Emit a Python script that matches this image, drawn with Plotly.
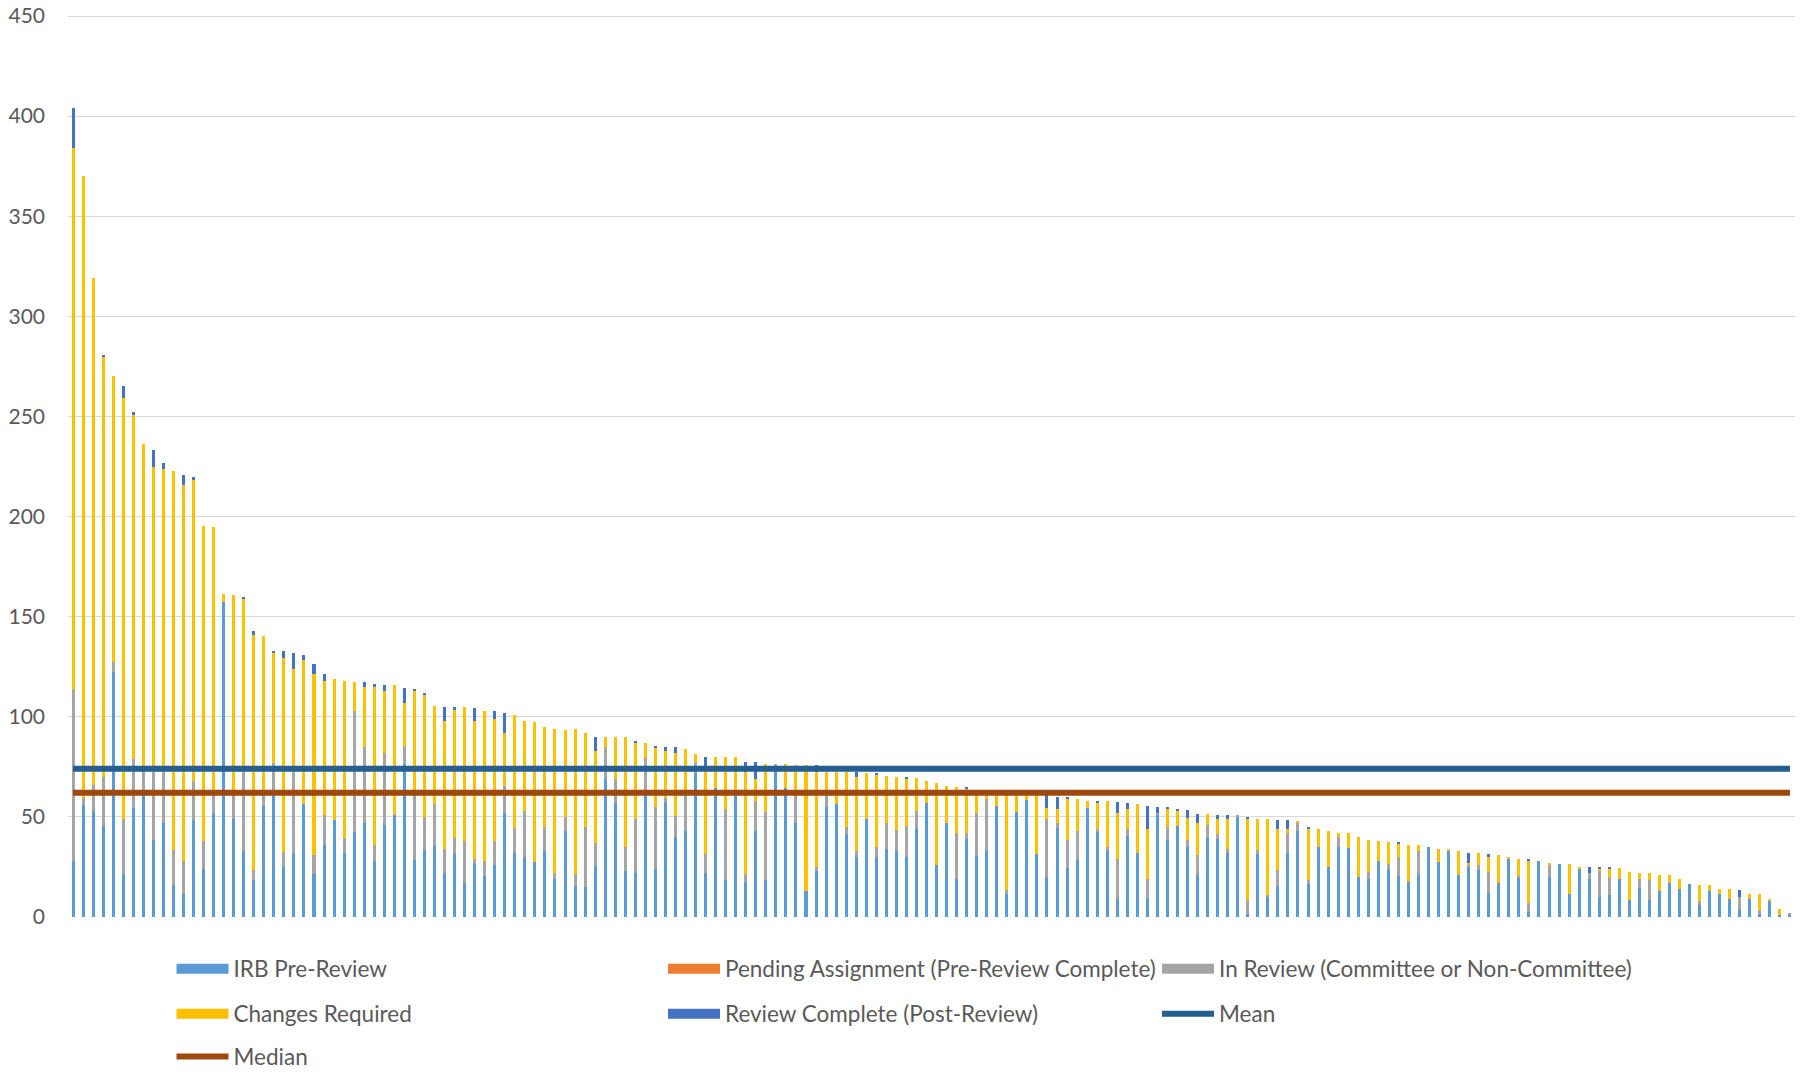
import plotly.graph_objects as go

# ---- data ----
categories = list(range(1, 173))

irb_pre_review = [
    28, 56, 53, 45.5, 122.5, 21.5, 54.5, 61, 38.5, 47,
    16, 11.5, 48.5, 24, 52, 157.5, 49, 33, 18.5, 55.5,
    61, 25, 32, 56.5, 21.5, 36, 48.5, 32, 42.5, 47,
    28, 46, 51, 76.5, 28.5, 33.5, 35.5, 22, 31.5, 17,
    26.5, 20.5, 26, 52, 32, 30, 27.5, 33, 19, 43,
    15.5, 15, 25.5, 69, 57, 23, 22, 61, 24, 57.5,
    40, 43, 72, 22, 64.5, 18.5, 61, 17.5, 43, 18.5,
    75.5, 64.5, 47, 13, 23, 55, 56.5, 41.5, 30, 49,
    30, 34, 33, 30, 44, 57, 26, 47, 19, 39,
    30.5, 33, 55.5, 11.5, 52.5, 58.5, 31.5, 20, 44.5, 24.5,
    28.5, 54.5, 42.5, 33, 9, 40.5, 32, 9, 51, 38.5,
    45.5, 35, 21, 39.5, 39, 32, 50, 1.5, 31.5, 10,
    15.5, 32, 43, 16.5, 35, 25, 35, 34.5, 20, 19,
    28, 23.5, 20.5, 17.5, 21, 35, 27.5, 33, 21, 25,
    23.5, 12, 17, 29, 19.5, 2.5, 28, 20, 26.5, 11.5,
    24, 19, 10, 11, 19, 8.5, 14.5, 8.5, 13, 17,
    14, 16.5, 6, 13, 11.5, 9, 3.5, 9, 1.5, 8,
    1, 1,
]

pending_assignment = [
    0, 0, 0, 0, 0, 0, 0, 0, 0, 0, 0, 0, 0, 0, 0, 0, 0, 0, 0, 0,
    0, 0, 0, 0, 0, 0, 0, 0, 0, 0, 0, 0, 0, 0, 0, 0, 0, 0, 0, 0,
    0, 0, 0, 0, 0, 0, 0, 0, 0, 0, 0, 0, 0, 0, 0, 0, 0, 0, 0, 0,
    0, 0, 0, 0, 0, 0, 0, 0, 0, 0, 0, 0, 0, 0, 0, 0, 0, 0, 0, 0,
    0, 0, 0, 0, 0, 0, 0, 0, 0, 0, 0, 0, 0, 0, 0, 0, 0, 0, 0, 0,
    0, 0, 0, 0, 0, 0, 0, 0, 0, 0, 0, 0, 0, 0, 0, 0, 0, 0, 0, 0,
    0, 0, 0, 0, 0, 0, 0, 0, 0, 0, 0, 0, 0, 0, 0, 0, 0, 0, 0, 0,
    0, 0, 0, 0, 0, 0, 0, 0, 0, 0, 0, 0, 0, 0, 0, 0, 0, 0, 0, 0,
    0, 0, 0, 0, 0, 0, 0, 0, 0, 0, 0, 0,
]

in_review = [
    86, 3.5, 13, 24.5, 5, 27.5, 24.5, 13, 34, 25.5,
    17.5, 16.5, 19.5, 14, 10, 0, 12, 39.5, 5, 5.5,
    16, 7.5, 40.5, 0, 9.5, 15, 0, 7.5, 60.5, 38,
    8, 36, 0, 9, 32.5, 16.5, 21, 12, 8, 21,
    2.5, 7.5, 12, 13.5, 12.5, 23, 0, 12, 3, 7,
    6, 30, 11.5, 16, 12, 12, 27, 18.5, 31, 2,
    10.5, 19, 5, 9.5, 0, 35.5, 0, 4, 15, 34,
    1, 0, 14, 0, 2, 6, 0, 3.5, 3, 0,
    5, 13, 10.5, 15.5, 9, 0, 0, 0, 23, 3,
    21.5, 26, 0, 2, 0, 0, 0, 29, 2.5, 14,
    14.5, 0, 1.5, 2, 20, 3.5, 0, 10, 1, 6.5,
    0, 3.5, 10, 6.5, 2.5, 2, 0.5, 7, 2, 1,
    8, 10, 4, 2, 0, 0, 5, 0, 0, 3.5,
    0, 3, 9.5, 0.5, 12, 0, 0, 0, 0, 1,
    2.5, 10.5, 0, 0, 1, 4.5, 0, 6, 0, 0,
    0, 3, 13, 9, 0, 0, 4.5, 10, 0, 0,
    0, 0, 2, 0, 0, 0, 6.5, 0, 2, 0,
    0, 1,
]

changes_required = [
    270, 310.5, 253, 209.5, 142.5, 210, 171.5, 162, 152.5, 151.5,
    189.5, 188, 150.5, 157.5, 133, 4, 100, 86.5, 117.5, 79.5,
    55, 97, 51.5, 72, 90.5, 67, 70.5, 78.5, 14.5, 30,
    79, 31, 65, 21.5, 52, 61, 49, 64, 64, 67,
    69, 75, 61, 26.5, 56.5, 45, 70, 50, 72, 43.5,
    72.5, 47, 46, 5, 21, 55, 38, 7.5, 29.5, 23.5,
    31.5, 22, 4.5, 41.5, 15.5, 26, 19, 51, 11, 24,
    0, 12, 15, 63, 47.5, 11.5, 16, 27.5, 37, 23,
    36, 23.5, 26.5, 23.5, 16.5, 11, 41, 18.5, 23, 22,
    11, 3, 6.5, 48, 9, 2.5, 29.5, 5.5, 7, 20.5,
    16, 3.5, 13, 23, 23, 10, 24.5, 25, 0, 9,
    7.5, 11, 16, 5.5, 7.5, 15, 0, 40.5, 15.5, 38,
    20.5, 2, 1, 25.5, 9, 18, 2, 7.5, 20, 16,
    10, 11, 6.5, 18, 3, 0, 6.5, 1, 12, 1,
    6, 7.5, 14, 1, 8.5, 21, 0, 1, 0, 15,
    1, 0, 1, 4, 5.5, 14, 3, 3.5, 8, 4,
    5, 0, 8, 3, 2.5, 5, 0, 2.5, 8, 1,
    3, 0,
]

review_complete = [
    20, 0, 0, 1, 0, 6, 1.5, 0, 8, 3,
    0, 5, 1.5, 0, 0, 0, 0, 0.7, 2, 0,
    1, 3.5, 8, 2.5, 5, 3.5, 0, 0, 0, 2.5,
    1.5, 3, 0, 7.5, 0.7, 1, 0, 7, 1.5, 0,
    6.5, 0, 4, 10, 0, 0, 0, 0, 0, 0,
    0, 0, 7, 0, 0, 0, 0.8, 0, 0.5, 2,
    3, 0, 0, 7, 0, 0, 0, 5, 8.5, 0,
    0, 0, 0, 0, 3.5, 0, 0, 0, 2.5, 0,
    0.5, 0, 0, 1, 0, 0, 0, 0, 0, 1,
    0, 0, 0, 0, 0, 0, 0, 6.5, 6, 0.5,
    0, 0, 1, 0, 5.5, 3, 0, 11.5, 3, 0.5,
    1, 4, 4.5, 0, 2, 2, 0, 1, 0, 0,
    4.5, 4.5, 0, 0.5, 0, 0, 0, 0, 0, 0,
    0, 0, 0.5, 0, 0, 0, 0, 0, 0, 5,
    0, 1.5, 0, 0, 0, 0.5, 0, 0, 0, 0,
    0, 3, 1, 1, 0, 0, 0, 0, 0, 0,
    0, 0, 0, 0, 0, 0, 3.5, 0, 0, 0,
    0, 0,
]

mean_value = 74
median_value = 62

y_ticks = [0, 50, 100, 150, 200, 250, 300, 350, 400, 450]

# (name, values, colour, legend id)
series = [
    ("IRB Pre-Review", irb_pre_review, "#5B9BD5", "legend"),
    ("Pending Assignment (Pre-Review Complete)", pending_assignment, "#ED7D31", "legend2"),
    ("In Review (Committee or Non-Committee)", in_review, "#A5A5A5", "legend3"),
    ("Changes Required", changes_required, "#FFC000", "legend4"),
    ("Review Complete (Post-Review)", review_complete, "#4472C4", "legend5"),
]

fig = go.Figure()

for name, vals, color, lg in series:
    fig.add_trace(go.Bar(
        x=categories, y=vals, name=name,
        marker=dict(color=color, line=dict(width=0)),
        showlegend=False, legendgroup=name,
    ))

mean_line = [mean_value for _ in categories]
median_line = [median_value for _ in categories]

fig.add_trace(go.Scatter(x=categories, y=mean_line, mode="lines", name="Mean",
                         line=dict(color="#255E91", width=6),
                         legend="legend6", showlegend=True))
fig.add_trace(go.Scatter(x=categories, y=median_line, mode="lines", name="Median",
                         line=dict(color="#9E480E", width=6),
                         legend="legend7", showlegend=True))

# legend-only keys drawn as wide rectangles, as in the reference
for name, vals, color, lg in series:
    fig.add_trace(go.Scatter(x=[None], y=[None], mode="lines", name=name,
                             line=dict(color=color, width=12),
                             legend=lg, legendgroup=name, showlegend=True,
                             hoverinfo="skip"))

leg_font = dict(family="Lato, Liberation Sans, sans-serif", size=22.5, color="#595959")


def leg(x, y):
    return dict(x=x, y=y, xref="container", yref="container",
                orientation="h", xanchor="left", yanchor="middle",
                itemwidth=52, font=leg_font, bgcolor="rgba(0,0,0,0)",
                borderwidth=0)


col_x = [0.0909, 0.3641, 0.6387]
row_y = [0.0968, 0.0545, 0.0141]

fig.update_layout(
    width=1799, height=1064,
    margin=dict(l=60, r=12, t=6, b=154, pad=0),
    paper_bgcolor="white", plot_bgcolor="white",
    barmode="stack", bargap=0.7,
    font=dict(family="Lato, Liberation Sans, sans-serif", color="#595959"),
    xaxis=dict(range=[0.5, 172.5], showticklabels=False, showgrid=False,
               zeroline=False, showline=False, ticks="", automargin=False),
    yaxis=dict(range=[-0.5, 451], tickvals=y_ticks, showgrid=True,
               gridcolor="#D9D9D9", gridwidth=1.3, zeroline=False,
               showline=False, ticks="", ticklen=0, ticklabelstandoff=22,
               ticklabeloverflow="allow", automargin=False,
               tickfont=dict(size=21, color="#595959")),
    legend=leg(col_x[0], row_y[0]),
    legend2=leg(col_x[1], row_y[0]),
    legend3=leg(col_x[2], row_y[0]),
    legend4=leg(col_x[0], row_y[1]),
    legend5=leg(col_x[1], row_y[1]),
    legend6=leg(col_x[2], row_y[1]),
    legend7=leg(col_x[0], row_y[2]),
)

fig.write_html("out.html")
